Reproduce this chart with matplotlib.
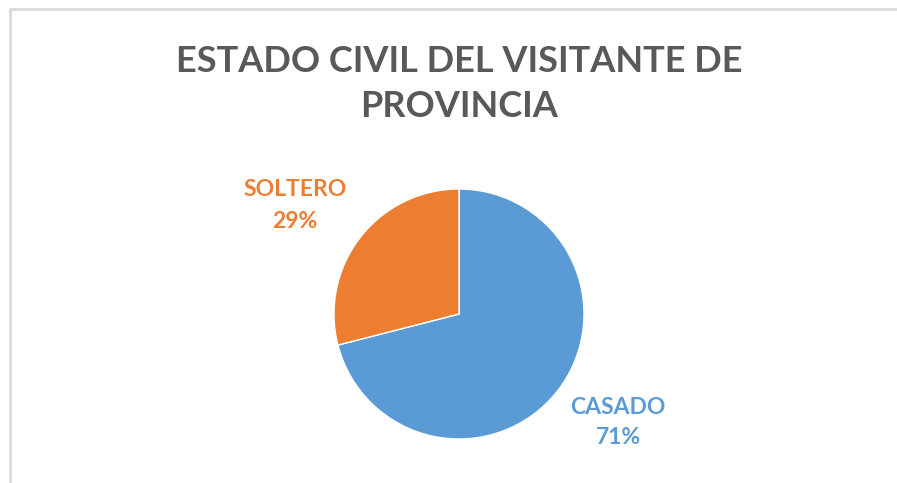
import matplotlib
matplotlib.use("Agg")
import matplotlib.pyplot as plt
from matplotlib.patches import Rectangle

categories = ["CASADO", "SOLTERO"]
values = [71, 29]
colors = ["#5B9BD5", "#ED7D31"]
title = "ESTADO CIVIL DEL VISITANTE DE\nPROVINCIA"

W, H = 897, 483
fig = plt.figure(figsize=(W / 100, H / 100), dpi=100)
fig.patch.set_facecolor("white")

# frame (left and top edges visible)
fig.add_artist(Rectangle((9.5 / W, -0.1), 1.2, (H - 9.5) / H + 0.1,
                         transform=fig.transFigure, fill=False,
                         edgecolor="#D9D9D9", linewidth=2))

cx, cy, r = 459, 314, 125
ax = fig.add_axes([(cx - r) / W, (H - cy - r) / H, 2 * r / W, 2 * r / H])
ax.pie(values, colors=colors, startangle=90, counterclock=False,
       wedgeprops=dict(edgecolor="white", linewidth=1), radius=1)
ax.set_xlim(-1, 1)
ax.set_ylim(-1, 1)
ax.set_aspect("equal")
ax.axis("off")

font = "Lato"
label_pos = {"CASADO": (1.272, -0.752, -0.992), "SOLTERO": (-1.312, 0.992, 0.736)}
for cat, val, col in zip(categories, values, colors):
    x, y1, y2 = label_pos[cat]
    ax.text(x, y1, cat, color=col, fontsize=16.5, fontweight="bold",
            family=font, ha="center", va="center", clip_on=False)
    ax.text(x, y2, f"{val}%", color=col, fontsize=16.5, fontweight="bold",
            family=font, ha="center", va="center", clip_on=False)

fig.text(459 / W, 1 - 84 / H, title, ha="center", va="center",
         fontsize=26, fontweight="bold", family=font, color="#595959",
         linespacing=1.45)

fig.savefig("out.png", dpi=100)
